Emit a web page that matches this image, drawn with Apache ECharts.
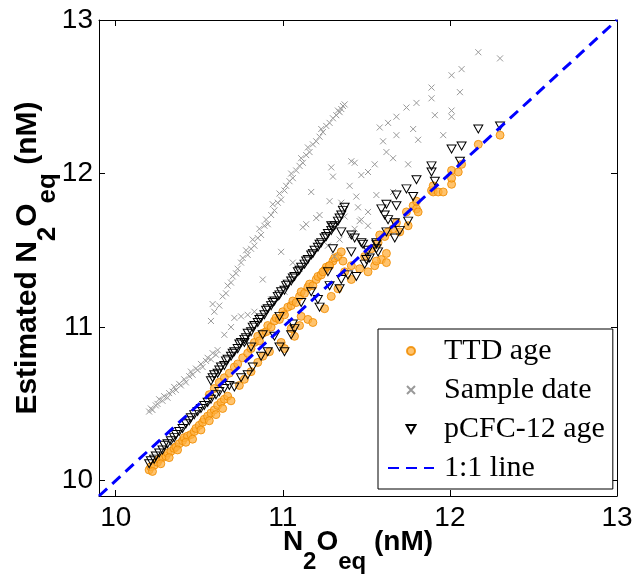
<!DOCTYPE html>
<html>
<head>
<meta charset="utf-8">
<script src="https://cdn.jsdelivr.net/npm/echarts@6.0.0/dist/echarts.min.js"></script>
<style>
  html, body { margin: 0; padding: 0; background: #fff; }
  #chart { width: 635px; height: 575px; }
</style>
</head>
<body>
<div id="chart"></div>
<script>
// tick positions
var xTicks = [10, 11, 12, 13];
var yTicks = [10, 11, 12, 13];

// 1:1 reference line
var oneToOne = [[9.9, 9.9], [13, 13]];

// TTD age (orange circles)
var ttdAge = [
  [10.20,10.07],[10.21,10.09],[10.23,10.10],[10.25,10.12],[10.26,10.14],[10.28,10.15],[10.30,10.16],[10.31,10.18],
  [10.33,10.19],[10.35,10.21],[10.36,10.22],[10.38,10.24],[10.40,10.26],[10.41,10.28],[10.43,10.29],[10.45,10.30],
  [10.47,10.32],[10.48,10.34],[10.50,10.36],[10.52,10.38],[10.53,10.40],[10.55,10.42],[10.57,10.44],[10.59,10.46],
  [10.61,10.49],[10.63,10.51],[10.65,10.53],[10.67,10.55],
  [10.22,10.06],[10.27,10.11],[10.32,10.15],[10.37,10.20],[10.42,10.25],[10.46,10.27],[10.51,10.33],[10.56,10.39],
  [10.60,10.43],[10.64,10.47],[10.69,10.52],
  [10.56,10.56],[10.59,10.60],[10.62,10.64],[10.65,10.67],[10.68,10.70],[10.71,10.74],[10.73,10.76],[10.76,10.80],
  [10.79,10.83],[10.81,10.86],
  [10.83,10.90],[10.85,10.94],[10.86,10.91],[10.88,10.96],[10.90,10.97],[10.91,11.01],[10.93,11.00],[10.95,11.04],
  [10.96,11.06],[10.98,11.05],[11.00,11.10],[11.01,11.08],[11.03,11.13],[11.05,11.14],[11.06,11.17],[11.08,11.16],
  [11.10,11.20],[11.11,11.23],[11.13,11.22],[11.15,11.26],[11.16,11.28],[11.18,11.27],[11.20,11.31],[11.21,11.33],
  [11.23,11.34],[11.25,11.37],[11.26,11.39],[11.28,11.40],[11.30,11.43],[11.31,11.45],[11.33,11.46],[11.35,11.49],
  [10.74,10.62],[10.77,10.66],[10.81,10.71],[10.85,10.77],[10.88,10.81],[10.92,10.84],[11.01,10.86],[10.99,10.90],
  [11.07,10.94],[11.05,10.99],[11.10,11.01],[11.11,11.07],[11.15,11.05],[11.18,11.03],[11.25,11.12],[11.29,11.20],
  [11.33,11.25],[11.37,11.36],[11.41,11.31],[11.41,11.40],[11.46,11.38],[11.49,11.46],[11.51,11.36],[11.53,11.51],
  [11.55,11.40],[11.57,11.55],[11.59,11.44],[11.62,11.42],[11.61,11.59],[11.63,11.62],[11.56,11.43],[11.62,11.48],
  [11.24,11.36],[11.28,11.40],[11.36,11.43],
  [11.58,11.60],[11.66,11.64],[11.70,11.62],[11.68,11.68],[11.74,11.75],[11.75,11.66],[11.78,11.79],[11.80,11.77],
  [11.81,11.75],[11.80,11.82],[11.89,11.89],[11.90,11.88],[11.90,11.92],[11.93,11.88],[11.96,11.88],[12.01,11.93],
  [12.01,11.97],[12.01,12.02],[12.05,12.01],[12.07,12.06],[12.17,12.19],[12.30,12.25]
];

// Sample date (grey crosses)
var sampleDate = [
  [10.20,10.45],[10.21,10.47],[10.22,10.46],[10.24,10.49],[10.25,10.50],[10.26,10.53],[10.28,10.52],[10.29,10.55],
  [10.31,10.54],[10.32,10.57],[10.34,10.58],[10.35,10.61],[10.36,10.59],[10.38,10.63],[10.39,10.62],[10.41,10.66],
  [10.42,10.64],[10.44,10.68],[10.45,10.71],[10.46,10.69],[10.48,10.73],[10.49,10.72],[10.51,10.76],[10.52,10.74],
  [10.54,10.78],[10.55,10.80],[10.57,10.79],[10.58,10.83],[10.60,10.82],[10.61,10.85],
  [10.65,10.95],[10.69,11.00],[10.71,11.06],[10.75,11.07],[10.79,11.08],[10.83,11.10],[10.93,11.18],[11.01,11.23],
  [10.88,11.31],[10.99,11.49],[11.02,11.28],[11.06,11.42],[11.10,11.38],
  [10.57,11.04],[10.59,11.10],[10.58,11.15],[10.62,11.14],[10.64,11.20],[10.66,11.22],[10.67,11.27],[10.69,11.29],
  [10.70,11.33],[10.72,11.35],[10.73,11.38],[10.75,11.42],[10.76,11.45],[10.79,11.47],[10.78,11.50],[10.81,11.51],
  [10.83,11.53],[10.82,11.57],[10.85,11.58],[10.87,11.60],[10.86,11.64],[10.89,11.66],[10.91,11.67],[10.90,11.70],
  [10.93,11.73],[10.95,11.76],[10.94,11.80],[10.97,11.81],[10.99,11.83],[10.98,11.87],[11.01,11.89],[11.02,11.92],
  [11.04,11.95],[11.06,11.97],[11.05,12.00],[11.08,12.02],[11.10,12.05],[11.12,12.07],[11.11,12.10],[11.14,12.12],
  [11.16,12.14],[11.15,12.17],[11.18,12.19],[11.20,12.21],[11.22,12.24],[11.24,12.27],[11.23,12.29],[11.26,12.31],
  [11.28,12.33],[11.30,12.36],[11.32,12.38],[11.33,12.41],[11.35,12.42],[11.36,12.44],[11.37,12.45],[11.34,12.40],
  [12.17,12.79],[12.30,12.75],[12.01,12.64],[12.07,12.68],[12.06,12.53],[11.89,12.56],[11.89,12.49],[11.91,12.38],
  [12.01,12.41],[12.01,12.37],[11.74,12.43],[11.80,12.46],[11.68,12.37],[11.63,12.33],[11.58,12.30],[11.78,12.29],
  [11.68,12.25],[11.96,12.25],[11.60,12.21],[11.81,12.22],[11.62,12.14],[11.66,12.10],[11.75,12.06],[11.55,12.06],
  [11.41,12.08],[11.43,12.07],[11.29,12.04],[11.30,11.98],[11.47,11.99],[11.51,12.01],[11.40,11.92],[11.56,11.86],
  [11.44,11.85],[11.28,11.82],[11.35,11.81],[11.45,11.78],[11.37,11.72],[11.47,11.70],[11.51,11.75],[11.51,11.66],
  [11.43,11.64],[11.34,11.57],[11.41,11.60],[11.27,11.53],[11.31,11.46],[11.17,11.88],[11.22,11.73],[11.20,11.71],
  [11.14,11.67],[11.12,11.65],[11.66,11.88],[11.46,11.69]
];

// pCFC-12 age (open triangles)
var pcfcAge = [
  [10.20,10.11],[10.21,10.13],[10.23,10.14],[10.24,10.16],[10.26,10.18],[10.28,10.20],[10.29,10.23],[10.31,10.24],
  [10.33,10.26],[10.35,10.28],[10.36,10.30],[10.38,10.32],[10.40,10.34],[10.42,10.37],[10.44,10.39],[10.45,10.41],
  [10.47,10.43],[10.49,10.45],[10.51,10.47],[10.53,10.49],[10.55,10.51],[10.57,10.53],[10.60,10.56],[10.62,10.58],
  [10.65,10.60],[10.68,10.62],[10.71,10.61],[10.75,10.67],[10.79,10.69],[10.82,10.74],[10.87,10.81],[10.91,10.84],
  [10.81,10.87],[10.77,10.90],[10.88,10.95],[10.95,10.94],[10.98,10.87],[11.01,10.84],[11.05,10.95],[11.07,10.99],
  [10.57,10.65],[10.58,10.67],[10.59,10.69],[10.61,10.70],[10.62,10.72],[10.63,10.74],[10.65,10.75],[10.66,10.78],
  [10.67,10.79],[10.69,10.81],[10.70,10.83],[10.71,10.84],[10.73,10.86],[10.74,10.89],[10.75,10.90],[10.77,10.92],
  [10.78,10.93],[10.79,10.96],[10.81,10.97],[10.82,11.00],[10.83,11.01],[10.85,11.03],[10.86,11.05],[10.87,11.06],
  [10.89,11.08],[10.90,11.11],[10.91,11.12],[10.93,11.14],[10.94,11.16],[10.95,11.17],[10.97,11.20],[10.98,11.21],
  [10.99,11.23],[11.01,11.24],[11.02,11.27],[11.03,11.28],[11.05,11.30],[11.06,11.32],[11.07,11.33],[11.09,11.36],
  [11.10,11.37],[11.11,11.39],[11.13,11.41],[11.14,11.43],[11.15,11.44],[11.17,11.47],[11.18,11.48],[11.19,11.50],
  [11.21,11.52],[11.22,11.54],[11.23,11.55],[11.25,11.58],[11.26,11.59],[11.27,11.61],[11.29,11.63],[11.30,11.65],
  [11.31,11.66],[11.33,11.69],[11.34,11.71],[11.35,11.73],[11.36,11.76],[11.37,11.78],
  [10.98,11.07],[11.06,11.02],[11.11,11.16],[11.17,11.23],[11.21,11.18],[11.22,11.13],[11.27,11.36],[11.28,11.27],
  [11.34,11.25],[11.35,11.31],[11.39,11.34],[11.44,11.33],[11.30,11.51],[11.41,11.49],[11.47,11.55],[11.50,11.44],
  [11.52,11.45],[11.56,11.54],[11.57,11.49],[11.41,11.60],[11.35,11.62],[11.29,11.66],[11.49,11.41],
  [12.17,12.29],[12.30,12.31],[12.01,12.16],[12.07,12.18],[12.06,12.08],[11.89,12.05],[11.89,12.01],[11.91,11.95],
  [11.80,11.96],[11.74,11.90],[11.68,11.86],[11.78,11.85],[11.62,11.80],[11.68,11.79],[11.59,11.77],[11.61,11.73],
  [11.63,11.70],[11.67,11.68],[11.75,11.69],[11.70,11.63],[11.67,11.58],[11.43,11.58],[11.48,11.54],[11.56,11.55],
  [11.56,11.51],[11.51,11.50],[11.62,11.62]
];

var chart = echarts.init(document.getElementById('chart'));

var sans = "'Liberation Sans', Arial, sans-serif";
var boxLine = { show: true, onZero: false, lineStyle: { color: '#000', width: 1 } };

function nameRich(big, small) {
  return {
    b: { fontFamily: sans, fontWeight: 'bold', fontSize: big, lineHeight: big, color: '#000' },
    s: { fontFamily: sans, fontWeight: 'bold', fontSize: small, lineHeight: small, color: '#000', padding: [40, 0, 0, 0] }
  };
}

var option = {
  animation: false,
  backgroundColor: '#fff',
  grid: { left: 99, top: 20, right: 18, bottom: 79, containLabel: false, outerBoundsMode: 'none' },
  legend: {
    orient: 'vertical',
    left: 378,
    top: 329,
    backgroundColor: '#fff',
    borderColor: '#000',
    borderWidth: 1,
    borderRadius: 0,
    padding: [7, 8, 6, 9],
    itemGap: 9,
    itemWidth: 46,
    itemHeight: 8,
    textStyle: { fontFamily: "'Liberation Serif', 'Times New Roman', serif", fontSize: 30, lineHeight: 30, color: '#000', padding: [0, 0, 0, 5] },
    data: ['TTD age', 'Sample date', 'pCFC-12 age', { name: '1:1 line', itemStyle: { opacity: 0 } }]
  },
  xAxis: [
    {
      type: 'value', position: 'bottom', min: 9.9, max: 13,
      axisLine: boxLine,
      axisTick: { inside: true, length: 6, customValues: xTicks, lineStyle: { color: '#000' } },
      axisLabel: { customValues: xTicks, fontFamily: sans, fontSize: 28, color: '#000', margin: 8, showMinLabel: true, showMaxLabel: true },
      splitLine: { show: false },
      name: '{b|N}{s|2}{b|O}{s|eq}{b| (nM)}',
      nameLocation: 'middle',
      nameGap: 32,
      nameMoveOverlap: false,
      nameTextStyle: { rich: nameRich(28, 24) }
    },
    {
      type: 'value', position: 'top', min: 9.9, max: 13,
      axisLine: boxLine,
      axisTick: { inside: true, length: 6, customValues: xTicks, lineStyle: { color: '#000' } },
      axisLabel: { show: false },
      splitLine: { show: false }
    }
  ],
  yAxis: [
    {
      type: 'value', position: 'left', min: 9.9, max: 13,
      axisLine: boxLine,
      axisTick: { inside: true, length: 6, customValues: yTicks, lineStyle: { color: '#000' } },
      axisLabel: { customValues: yTicks, fontFamily: sans, fontSize: 28, color: '#000', margin: 6, showMinLabel: true, showMaxLabel: true },
      splitLine: { show: false },
      name: '{b|Estimated N}{s|2}{b|O}{s|eq}{b| (nM)}',
      nameLocation: 'middle',
      nameRotate: 90,
      nameGap: 56,
      nameMoveOverlap: false,
      nameTextStyle: { rich: nameRich(30, 26) }
    },
    {
      type: 'value', position: 'right', min: 9.9, max: 13,
      axisLine: boxLine,
      axisTick: { inside: true, length: 6, customValues: yTicks, lineStyle: { color: '#000' } },
      axisLabel: { show: false },
      splitLine: { show: false }
    }
  ],
  series: [
    {
      name: 'TTD age', type: 'scatter', data: ttdAge,
      symbol: 'circle', symbolSize: 8,
      itemStyle: { color: 'rgba(255,175,60,0.75)', borderColor: 'rgba(240,140,0,0.85)', borderWidth: 1, opacity: 1 }
    },
    {
      name: 'Sample date', type: 'scatter', data: sampleDate,
      symbol: 'path://M0,0L10,10M10,0L0,10', symbolSize: 6,
      itemStyle: { color: 'rgba(0,0,0,0)', borderColor: '#999', borderWidth: 1, opacity: 1 }
    },
    {
      name: 'pCFC-12 age', type: 'scatter', data: pcfcAge,
      symbol: 'path://M0,0L10,0L5,9Z', symbolSize: [9, 8],
      itemStyle: { color: 'rgba(0,0,0,0)', borderColor: '#000', borderWidth: 1, opacity: 1 }
    },
    {
      name: '1:1 line', type: 'line', data: oneToOne,
      symbol: 'none', showSymbol: false,
      lineStyle: { color: '#0000ff', width: 3, type: [11, 7] },
      itemStyle: { color: 'rgba(0,0,0,0)', borderColor: 'rgba(0,0,0,0)' },
      z: 5
    }
  ]
};

chart.setOption(option);
</script>
</body>
</html>
